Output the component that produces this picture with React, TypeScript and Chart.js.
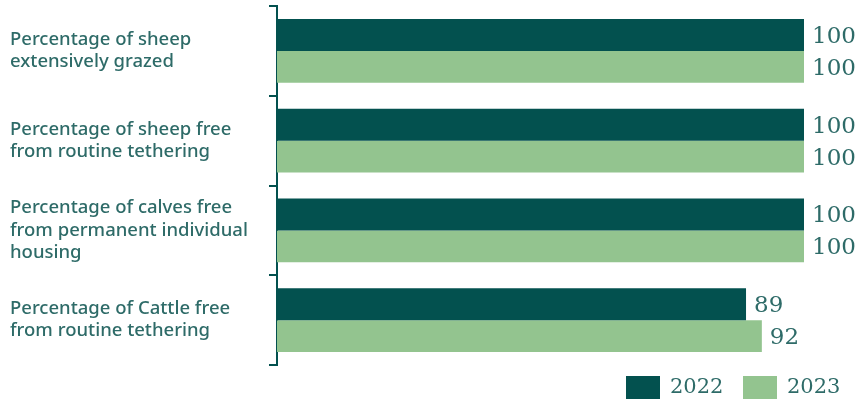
import React, { useEffect, useRef } from "react";
import { Chart, registerables } from "chart.js";

Chart.register(...registerables);

const categories: string[][] = [
  ["Percentage of sheep", "extensively grazed"],
  ["Percentage of sheep free", "from routine tethering"],
  ["Percentage of calves free", "from permanent individual", "housing"],
  ["Percentage of Cattle free", "from routine tethering"],
];
const seriesNames = ["2022", "2023"];
const values2022 = [100, 100, 100, 89];
const values2023 = [100, 100, 100, 92];
const colors = ["#03514F", "#93C48F"];
const textColor = "#2E6B68";

export default function App() {
  const ref = useRef<HTMLCanvasElement | null>(null);
  useEffect(() => {
    if (!ref.current) return;
    const valueLabels = {
      id: "valueLabels",
      afterDatasetsDraw(chart: any) {
        const ctx = chart.ctx;
        ctx.save();
        ctx.font = "23px 'DejaVu Serif'";
        ctx.fillStyle = textColor;
        ctx.textAlign = "left";
        ctx.textBaseline = "middle";
        chart.data.datasets.forEach((ds: any, i: number) => {
          const meta = chart.getDatasetMeta(i);
          meta.data.forEach((bar: any, j: number) => {
            ctx.fillText(String(ds.data[j]), bar.x + 8, bar.y + 2);
          });
        });
        ctx.restore();
      },
    };
    const customLegend = {
      id: "customLegend",
      afterDraw(chart: any) {
        const ctx = chart.ctx;
        ctx.save();
        ctx.font = "21px 'DejaVu Serif'";
        ctx.textBaseline = "middle";
        const positions = [626, 743];
        chart.data.datasets.forEach((ds: any, i: number) => {
          const x = positions[i];
          ctx.fillStyle = ds.backgroundColor;
          ctx.fillRect(x, 376, 34, 23);
          ctx.fillStyle = textColor;
          ctx.fillText(ds.label, x + 44, 388);
        });
        ctx.restore();
      },
    };
    const chart = new Chart(ref.current, {
      type: "bar",
      data: {
        labels: categories,
        datasets: [
          { label: seriesNames[0], data: values2022, backgroundColor: colors[0] },
          { label: seriesNames[1], data: values2023, backgroundColor: colors[1] },
        ],
      },
      options: {
        indexAxis: "y",
        animation: false,
        responsive: false,
        maintainAspectRatio: false,
        layout: { padding: { left: 10, right: 55, top: 6, bottom: 38 } },
        datasets: { bar: { categoryPercentage: 0.71, barPercentage: 1 } } as any,
        plugins: { legend: { display: false }, tooltip: { enabled: false } },
        scales: {
          x: { display: false, min: 0, max: 100 },
          y: {
            afterFit: (scale: any) => {
              scale.width = 267;
              scale.paddingTop = 0;
              scale.paddingBottom = 0;
            },
            grid: {
              drawOnChartArea: false,
              drawTicks: true,
              tickLength: 8,
              color: colors[0],
              lineWidth: 2,
              offset: true,
            },
            border: { display: true, color: colors[0], width: 2 },
            ticks: {
              crossAlign: "far",
              color: textColor,
              font: { family: "'Noto Sans'", size: 18.5, weight: "500", lineHeight: 1.2 },
            },
          },
        },
      } as any,
      plugins: [valueLabels, customLegend],
    });
    return () => chart.destroy();
  }, []);
  return (
    <div style={{ position: "fixed", left: 0, top: 0, width: 859, height: 403, background: "#fff" }}>
      <canvas ref={ref} width={859} height={403} />
    </div>
  );
}
